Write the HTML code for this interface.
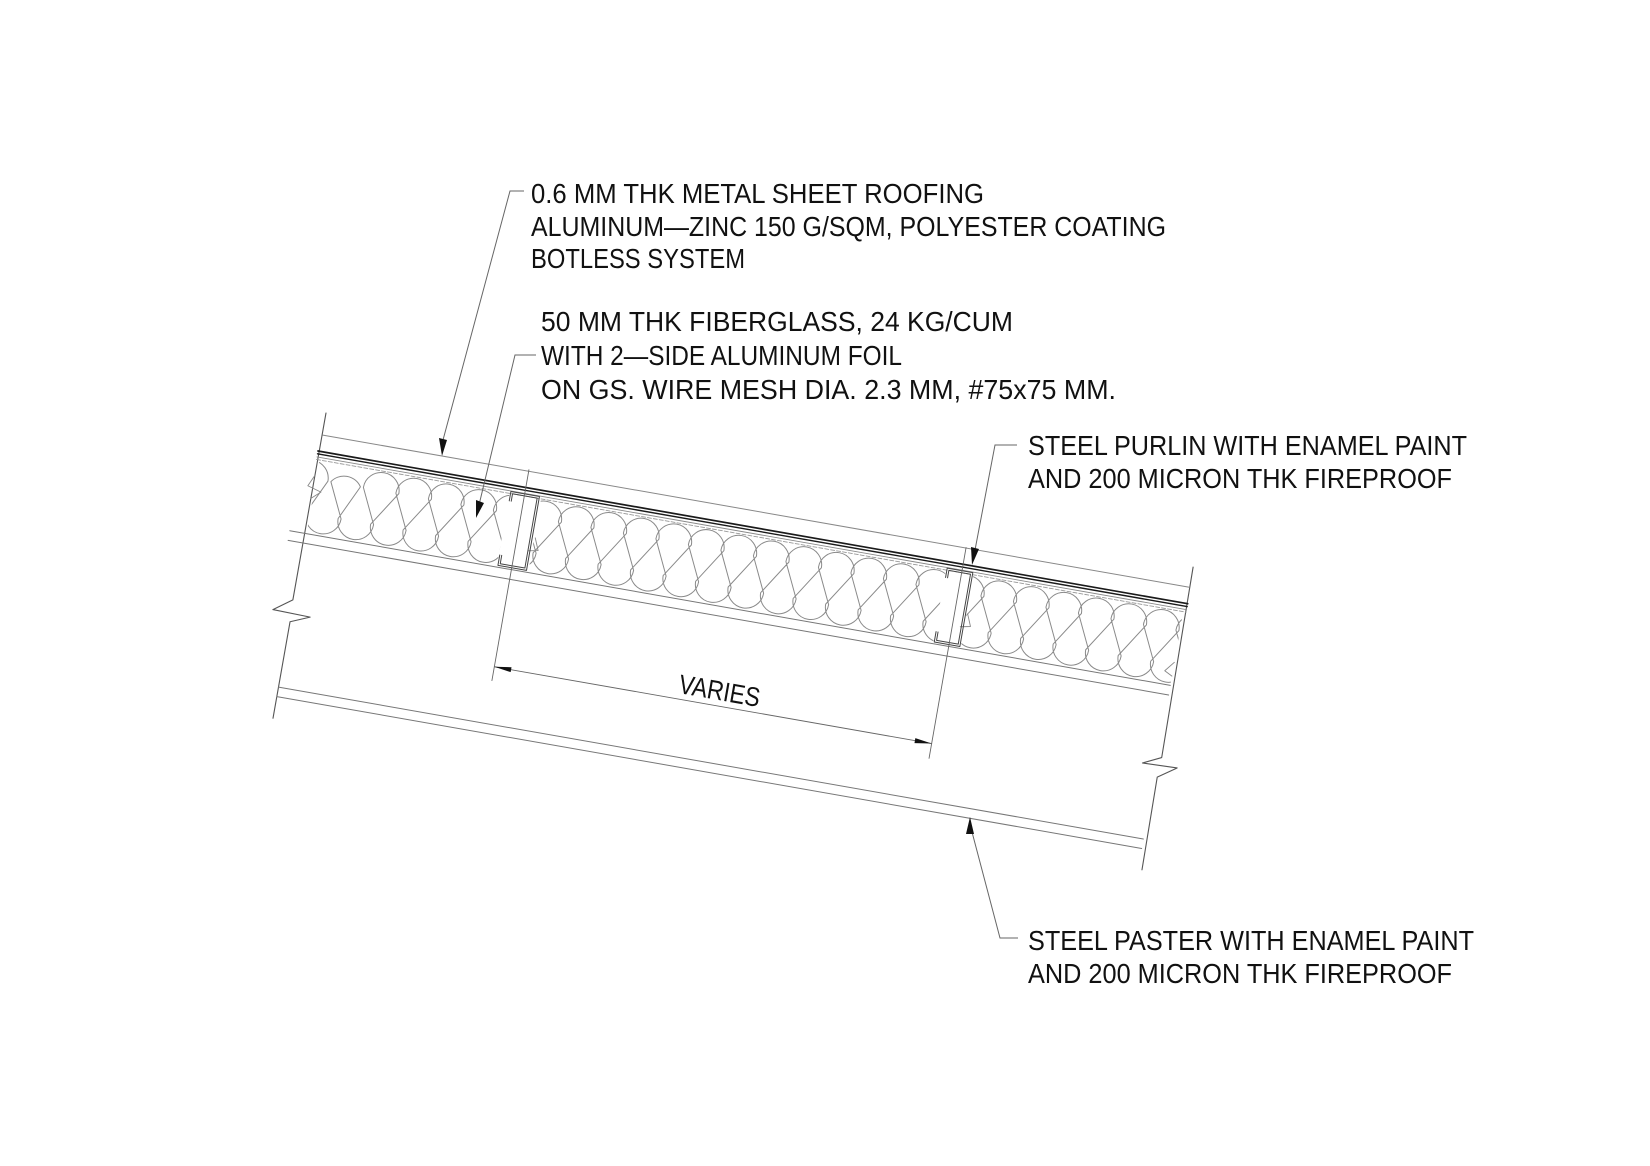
<!DOCTYPE html>
<html><head><meta charset="utf-8"><style>
html,body{margin:0;padding:0;background:#fff;}
svg{display:block;}
text{font-family:"Liberation Sans",sans-serif;fill:#111;}
</style></head><body>
<svg width="1650" height="1166" viewBox="0 0 1650 1166" xmlns="http://www.w3.org/2000/svg">
<defs>
<clipPath id="c1"><rect x="3" y="8" width="193" height="75"/></clipPath>
<clipPath id="c2"><rect x="228" y="8" width="411" height="75"/></clipPath>
<clipPath id="c3"><rect x="667" y="8" width="213" height="75"/></clipPath>
<path id="ins" d="M-40,58 A18,18 0 0 0 -4,58 L-21,28 A18,18 0 0 1 15,28 L-1.5,63 A18,18 0 0 0 34.5,63 L18,28 A18,18 0 0 1 48,28 L31.5,63 A18,18 0 0 0 67.5,63 L51,28 A18,18 0 0 1 87,28 L64.5,63 A18,18 0 0 0 100.5,63 L84,28 A18,18 0 0 1 120,28 L97.5,63 A18,18 0 0 0 133.5,63 L117,28 A18,18 0 0 1 153,28 L130.5,63 A18,18 0 0 0 166.5,63 L150,28 A18,18 0 0 1 186,28 L163.5,63 A18,18 0 0 0 199.5,63 L183,28 A18,18 0 0 1 219,28 L196.5,63 A18,18 0 0 0 232.5,63 L216,28 A18,18 0 0 1 252,28 L229.5,63 A18,18 0 0 0 265.5,63 L249,28 A18,18 0 0 1 285,28 L262.5,63 A18,18 0 0 0 298.5,63 L282,28 A18,18 0 0 1 318,28 L295.5,63 A18,18 0 0 0 331.5,63 L315,28 A18,18 0 0 1 351,28 L328.5,63 A18,18 0 0 0 364.5,63 L348,28 A18,18 0 0 1 384,28 L361.5,63 A18,18 0 0 0 397.5,63 L381,28 A18,18 0 0 1 417,28 L394.5,63 A18,18 0 0 0 430.5,63 L414,28 A18,18 0 0 1 450,28 L427.5,63 A18,18 0 0 0 463.5,63 L447,28 A18,18 0 0 1 483,28 L460.5,63 A18,18 0 0 0 496.5,63 L480,28 A18,18 0 0 1 516,28 L493.5,63 A18,18 0 0 0 529.5,63 L513,28 A18,18 0 0 1 549,28 L526.5,63 A18,18 0 0 0 562.5,63 L546,28 A18,18 0 0 1 582,28 L559.5,63 A18,18 0 0 0 595.5,63 L579,28 A18,18 0 0 1 615,28 L592.5,63 A18,18 0 0 0 628.5,63 L612,28 A18,18 0 0 1 648,28 L625.5,63 A18,18 0 0 0 661.5,63 L645,28 A18,18 0 0 1 681,28 L658.5,63 A18,18 0 0 0 694.5,63 L678,28 A18,18 0 0 1 714,28 L691.5,63 A18,18 0 0 0 727.5,63 L711,28 A18,18 0 0 1 747,28 L724.5,63 A18,18 0 0 0 760.5,63 L744,28 A18,18 0 0 1 780,28 L757.5,63 A18,18 0 0 0 793.5,63 L777,28 A18,18 0 0 1 813,28 L790.5,63 A18,18 0 0 0 826.5,63 L810,28 A18,18 0 0 1 846,28 L823.5,63 A18,18 0 0 0 859.5,63 L843,28 A18,18 0 0 1 879,28 L856.5,63 A18,18 0 0 0 892.5,63 L876,28 A18,18 0 0 1 912,28"/>
</defs>

<g transform="translate(318,451) rotate(9.96)" fill="none" stroke-linecap="round" stroke-linejoin="round">
  <!-- break lines -->
  <polyline points="1.3,-38.8 1,151 -17,164 21,165 2,173 1.9,271" stroke="#555" stroke-width="1.1"/>
  <polyline points="882,-37 884,156 866,164.7 901,163.6 883,176 884,270" stroke="#555" stroke-width="1.1"/>
  <!-- top thin line -->
  <line x1="2" y1="-16.5" x2="881" y2="-16.5" stroke="#888" stroke-width="1"/>
  <!-- metal sheet -->
  <line x1="0" y1="0" x2="883" y2="0" stroke="#1a1a1a" stroke-width="1.7"/>
  <line x1="0" y1="2.9" x2="883" y2="2.9" stroke="#1a1a1a" stroke-width="1.4"/>
  <line x1="0" y1="6" x2="883" y2="6" stroke="#888" stroke-width="0.9"/>
  <line x1="0" y1="8.6" x2="883" y2="8.6" stroke="#999" stroke-width="0.9" stroke-dasharray="4 2"/>
  <!-- insulation -->
  <g stroke="#8a8a8a" stroke-width="1">
    <use href="#ins" clip-path="url(#c1)"/>
    <use href="#ins" clip-path="url(#c2)"/>
    <use href="#ins" clip-path="url(#c3)"/>
  </g>
  <polyline points="1,25 -4,36 10,40 1,48" stroke="#888" stroke-width="0.9"/>
  <polyline points="229,48 234,60 224,62" stroke="#888" stroke-width="0.9"/>
  <polyline points="668,48 673,60 663,62" stroke="#888" stroke-width="0.9"/>
  <polyline points="880,60 872,70 880,74" stroke="#888" stroke-width="0.9"/>
  <!-- lower insulation boundary lines -->
  <line x1="-14" y1="83.4" x2="880" y2="83.4" stroke="#777" stroke-width="1"/>
  <line x1="-14" y1="93.2" x2="880" y2="93.2" stroke="#777" stroke-width="1"/>
  <!-- lower beam -->
  <line x1="2" y1="239.4" x2="880" y2="239.4" stroke="#777" stroke-width="1"/>
  <line x1="2" y1="249" x2="880" y2="249" stroke="#777" stroke-width="1"/>
  <!-- purlins -->
  <g stroke="#444" stroke-width="1">
    <polyline points="197,16 197,6.5 226,6.5 226,81.5 197,81.5 197,71"/>
    <polyline points="199,16 199,8.5 224,8.5 224,79.5 199,79.5 199,71"/>
    <polyline points="640,16 640,6.5 666,6.5 666,81.5 640,81.5 640,71"/>
    <polyline points="642,16 642,8.5 664,8.5 664,79.5 642,79.5 642,71"/>
  </g>
  <!-- dimension -->
  <line x1="211" y1="-18" x2="211" y2="196" stroke="#666" stroke-width="0.9"/>
  <line x1="655" y1="-17" x2="655" y2="197" stroke="#666" stroke-width="0.9"/>
  <line x1="211" y1="182" x2="655" y2="182" stroke="#666" stroke-width="0.9"/>
  <polygon points="211,182 228,179.5 228,184.5" fill="#111" stroke="none"/>
  <polygon points="655,182 638,179.5 638,184.5" fill="#111" stroke="none"/>
  <text x="437" y="176" font-size="27" text-anchor="middle" textLength="82" lengthAdjust="spacingAndGlyphs" stroke="none">VARIES</text>
</g>

<!-- leaders -->
<g stroke="#666" stroke-width="1" fill="none">
  <polyline points="524,191 510,191 443,440"/>
  <polyline points="536,355 515,355 479,505"/>
  <polyline points="1017,445 995,445 975,550"/>
  <polyline points="1018,938 1000,938 972,832"/>
</g>
<g fill="#111">
  <polygon points="442,456 439,438 447,440"/>
  <polygon points="476,518 476,500 484,503"/>
  <polygon points="972,565 971,547 979,549"/>
  <polygon points="970,817 966,834 974,834"/>
</g>

<!-- texts -->
<g font-size="28">
<text x="531" y="203" textLength="453" lengthAdjust="spacingAndGlyphs">0.6 MM THK METAL SHEET ROOFING</text>
<text x="531" y="236" textLength="635" lengthAdjust="spacingAndGlyphs">ALUMINUM—ZINC 150 G/SQM, POLYESTER COATING</text>
<text x="531" y="268" textLength="214" lengthAdjust="spacingAndGlyphs">BOTLESS SYSTEM</text>
<text x="541" y="331" textLength="472" lengthAdjust="spacingAndGlyphs">50 MM THK FIBERGLASS, 24 KG/CUM</text>
<text x="541" y="365" textLength="361" lengthAdjust="spacingAndGlyphs">WITH 2—SIDE ALUMINUM FOIL</text>
<text x="541" y="399" textLength="575" lengthAdjust="spacingAndGlyphs">ON GS. WIRE MESH DIA. 2.3 MM, #75x75 MM.</text>
<text x="1028" y="455" textLength="439" lengthAdjust="spacingAndGlyphs">STEEL PURLIN WITH ENAMEL PAINT</text>
<text x="1028" y="488" textLength="424" lengthAdjust="spacingAndGlyphs">AND 200 MICRON THK FIREPROOF</text>
<text x="1028" y="950" textLength="446" lengthAdjust="spacingAndGlyphs">STEEL PASTER WITH ENAMEL PAINT</text>
<text x="1028" y="983" textLength="424" lengthAdjust="spacingAndGlyphs">AND 200 MICRON THK FIREPROOF</text>
</g>
</svg>
</body></html>
